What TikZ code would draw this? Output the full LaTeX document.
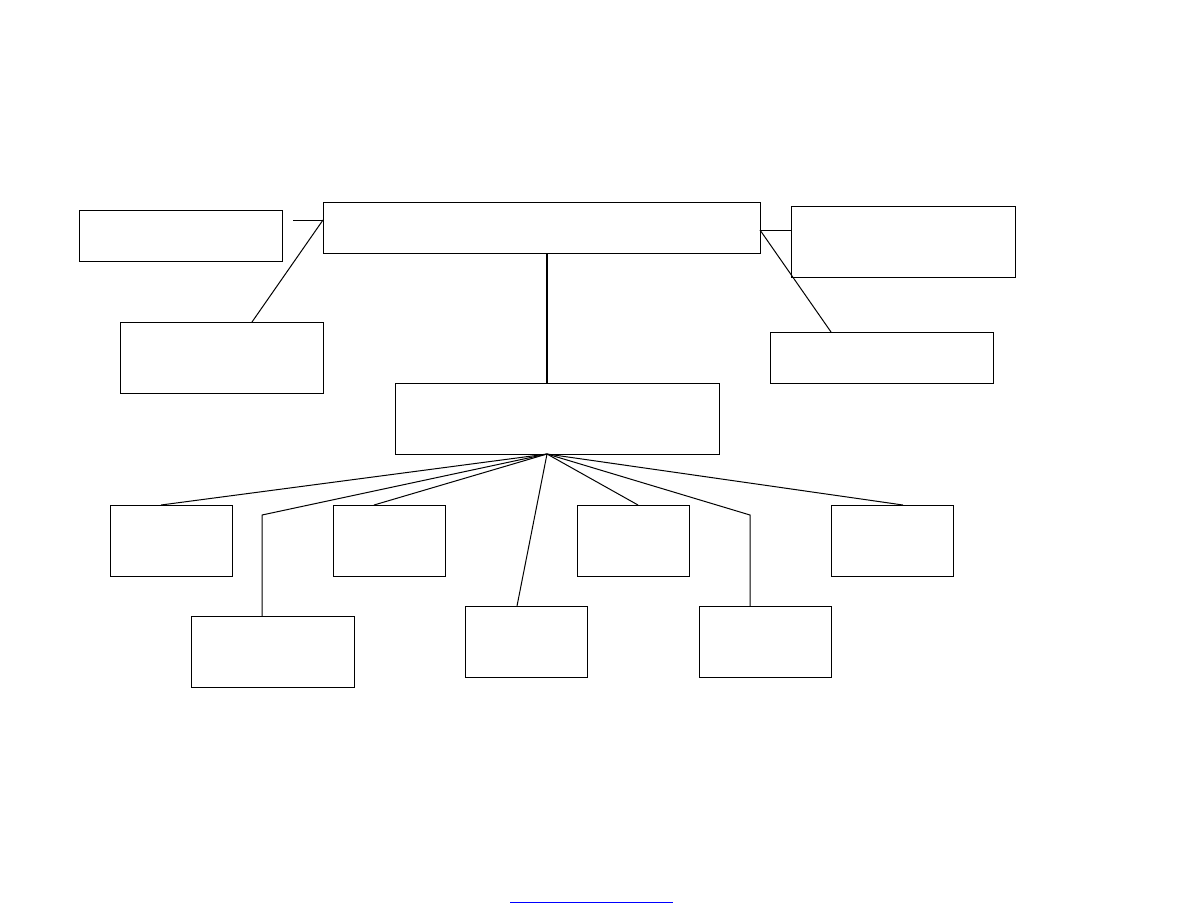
\documentclass[tikz,border=0pt]{standalone}
\usepackage{tikz}
\usetikzlibrary{calc}

\begin{document}
\begin{tikzpicture}[x=0.75pt, y=-0.75pt, line width=0.75pt,
  box/.style={draw, rectangle, inner sep=0pt, outer sep=0pt, minimum height=53.25pt},
  flat/.style={box, minimum height=38.25pt}]
\useasboundingbox (0,0) rectangle (1188,918);
\node[flat, minimum width=327.75pt] (top) at (541.5,227.5) {};
\node[flat, minimum width=151.9pt] (lbox) at (181.25,235.5) {};
\node[box, minimum width=152.25pt] (lbelow) at (221.5,357.5) {};
\node[box, minimum width=168pt] (rbox) at (903,241.75) {};
\node[flat, minimum width=167.6pt] (rbelow) at (881.75,357.5) {};
\node[box, minimum width=243pt] (mid) at (557,418.5) {};
\node[box, minimum width=91.5pt] (s1) at (171,540.5) {};
\node[box, minimum width=122.6pt] (s2) at (272.75,651.5) {};
\node[box, minimum width=84pt] (s3) at (389,540.5) {};
\node[box, minimum width=91.5pt] (s4) at (526,641.5) {};
\node[box, minimum width=84pt] (s5) at (633,540.5) {};
\node[box, minimum width=99pt] (s6) at (765,641.5) {};
\node[box, minimum width=91.5pt] (s7) at (892,540.5) {};
\coordinate (tickl) at (293,220);
\coordinate (jr) at ($(top.north east)+(0,28)$);
\coordinate (hub) at ($(mid.south west)+(152,0)$);
\coordinate (elbowl) at ($(s2.north west)+(71,-101)$);
\coordinate (elbowr) at ($(s6.north west)+(51,-91)$);
\draw (tickl) -- (top.west |- tickl);
\draw (top.west |- tickl) -- ($(lbelow.north west)+(132,0)$);
\draw (jr) -- (rbox.west |- jr);
\draw (jr) -- ($(rbelow.north west)+(61,0)$);
\draw[line width=1.5pt] (top.south -| hub) -- (mid.north -| hub);
\draw (hub) -- ($(s1.north west)+(51,0)$);
\draw (hub) -- (elbowl) -- (elbowl |- s2.north);
\draw (hub) -- ($(s3.north west)+(41,0)$);
\draw (hub) -- ($(s4.north west)+(52,0)$);
\draw (hub) -- ($(s5.north west)+(61,0)$);
\draw (hub) -- (elbowr) -- (elbowr |- s6.north);
\draw (hub) -- ($(s7.north west)+(72,0)$);
\coordinate (linkl) at (510,902);
\coordinate (linkr) at (673,902);
\draw[blue] (linkl) -- (linkr);
\end{tikzpicture}
\end{document}
